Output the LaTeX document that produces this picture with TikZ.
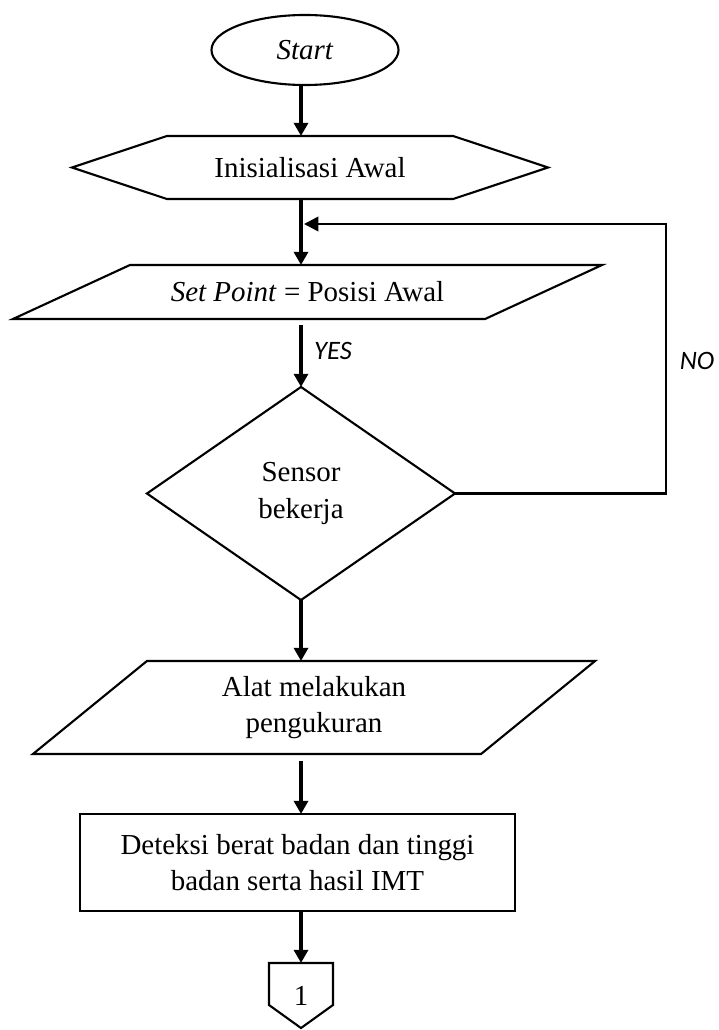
\documentclass[tikz,border=0pt]{standalone}
\usepackage{fontspec}
\setmainfont{Liberation Serif}
\newfontfamily\calibri{Carlito}
\usetikzlibrary{shapes.geometric,shapes.symbols,arrows.meta}

\tikzset{
  box/.style={draw,line width=1.5pt,inner sep=0pt,outer sep=0pt,align=center,
    font=\fontsize{20.6}{26}\selectfont},
  flow/.style={line width=2.6pt,-{Triangle[width=0.35cm,length=0.33cm]}},
  loopline/.style={line width=1.9pt,-{Triangle[width=0.36cm,length=0.36cm]}},
  yesno/.style={font=\calibri\itshape\fontsize{18.9}{22}\selectfont,inner sep=0pt}
}

\begin{document}
\begin{tikzpicture}[x=0.025cm,y=-0.025cm]
\useasboundingbox (0,0) rectangle (718,1030);

\node[box,ellipse,minimum width=4.675cm,minimum height=1.75cm] (start) at (305,50) {\textit{Start}};
\node[box,signal,signal to=west and east,signal pointer angle=36.7,
  minimum width=11.9cm,minimum height=1.575cm] (init) at (310,167.5) {Inisialisasi Awal};

\node[box,draw=none,minimum width=11.8cm,minimum height=1.35cm] (setp) at (307.5,292)
  {\textit{Set Point} = Posisi Awal};
\draw[line width=1.5pt] ([xshift=-1.4625cm]setp.south west) -- ([xshift=1.4625cm]setp.north west)
  -- ([xshift=1.4625cm]setp.north east) -- ([xshift=-1.4625cm]setp.south east) -- cycle;

\node[box,diamond,minimum width=7.7cm,minimum height=5.325cm] (sensor) at (301,493.5) {Sensor\\bekerja};

\node[box,draw=none,minimum width=11.2cm,minimum height=2.325cm] (measure) at (314,707.5)
  {Alat melakukan\\pengukuran};
\draw[line width=1.5pt] ([xshift=-1.425cm]measure.south west) -- ([xshift=1.425cm]measure.north west)
  -- ([xshift=1.425cm]measure.north east) -- ([xshift=-1.425cm]measure.south east) -- cycle;

\node[box,rectangle,minimum width=10.875cm,minimum height=2.425cm] (detect) at (297.5,862.5)
  {Deteksi berat badan dan tinggi\\badan serta hasil IMT};

\node[box,draw=none,minimum width=1.6cm,minimum height=1.625cm] (conn) at (301,995.5) {1};
\draw[line width=1.5pt] (conn.north west) -- (conn.north east) -- ++(0,42) -- (conn.south)
  -- ++(-32,-23) -- cycle;

\coordinate (spine) at (301,0);
\coordinate (turn) at (666,224);
\coordinate (join) at (304,224);

\draw[flow] (start.south -| spine) -- (init.north -| spine);
\draw[flow] (init.south -| spine) -- (setp.north -| spine);
\draw[flow,shorten <=4pt] (setp.south -| spine) -- (sensor.north);
\draw[flow] (sensor.south) -- (measure.north -| spine);
\draw[flow,shorten <=5pt] (measure.south -| spine) -- (detect.north -| spine);
\draw[flow] (detect.south -| spine) -- (conn.north);

\draw[loopline] (sensor.east) -| (turn) -- (join);

\node[yesno] (yes) at (333,351) {YES};
\node[yesno] (no) at (697,361) {NO};
\end{tikzpicture}
\end{document}
